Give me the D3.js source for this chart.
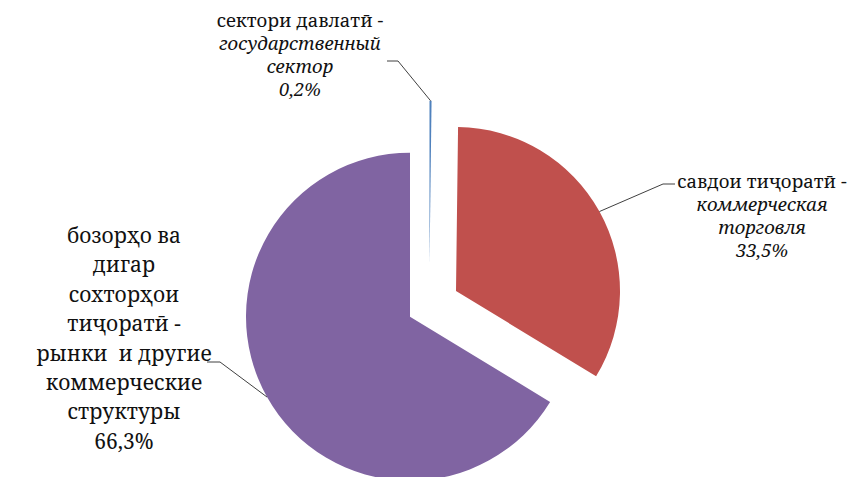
<!DOCTYPE html>
<html><head><meta charset="utf-8">
<script src="https://cdn.jsdelivr.net/npm/d3@7"></script>
<style>body{margin:0;background:#fff}svg{display:block}text{font-family:"Noto Serif","DejaVu Serif",serif;fill:#111;white-space:pre}</style>
</head><body>
<script>
const categories = ["сектори давлатӣ", "савдои тиҷоратӣ", "бозорҳо ва дигар сохторҳои тиҷоратӣ"];
const values = [0.2, 33.5, 66.3];
const colors = ["#4F81BD", "#C0504D", "#8064A2"];
const labelLines = [
  [["сектори давлатӣ -", false], ["государственный", true], ["сектор", true], ["0,2%", true]],
  [["савдои тиҷоратӣ -", false], ["коммерческая", true], ["торговля", true], ["33,5%", true]],
  [["бозорҳо ва", false], ["дигар", false], ["сохторҳои", false], ["тиҷоратӣ -", false], ["рынки  и другие", false], ["коммерческие", false], ["структуры", false], ["66,3%", false]]
];
// layout
const W = 855, H = 477, cx = 410, cy = 316.7, R = 164;
const explode = [[19.5, -52], [46, -25.7], [0, 0]];
const elbows = [[[398, 61], [387, 61]], [[663, 184], [675, 184]], [[220, 362], [207, 362]]];
const labelPos = [{x: 300, y: 27, size: 18.5, lh: 23}, {x: 762, y: 188, size: 18.5, lh: 23}, {x: 124, y: 243, size: 21, lh: 29.4}];

const svg = d3.select("body").append("svg").attr("width", W).attr("height", H);
const pie = d3.pie().sort(null).value(d => d).startAngle(0).endAngle(2 * Math.PI);
const arcs = pie(values);
const arc = d3.arc().innerRadius(0).outerRadius(R);

const g = svg.append("g").attr("transform", `translate(${cx},${cy})`);
g.selectAll("path").data(arcs).join("path")
  .attr("d", arc)
  .attr("fill", (d, i) => colors[i])
  .attr("transform", (d, i) => `translate(${explode[i][0]},${explode[i][1]})`);

// leader lines
arcs.forEach((d, i) => {
  const m = (d.startAngle + d.endAngle) / 2;
  const sx = cx + explode[i][0] + Math.sin(m) * R;
  const sy = cy + explode[i][1] - Math.cos(m) * R;
  const pts = [[sx, sy], ...elbows[i]];
  svg.append("path").attr("d", d3.line()(pts)).attr("fill", "none")
    .attr("stroke", "#404040").attr("stroke-width", 1);
});

// labels
labelLines.forEach((lines, i) => {
  const p = labelPos[i];
  const t = svg.append("text").attr("text-anchor", "middle").attr("font-size", p.size);
  lines.forEach((l, j) => {
    t.append("tspan").attr("x", p.x).attr("y", p.y + j * p.lh)
      .attr("font-style", l[1] ? "italic" : "normal").text(l[0]);
  });
});
</script>
</body></html>
